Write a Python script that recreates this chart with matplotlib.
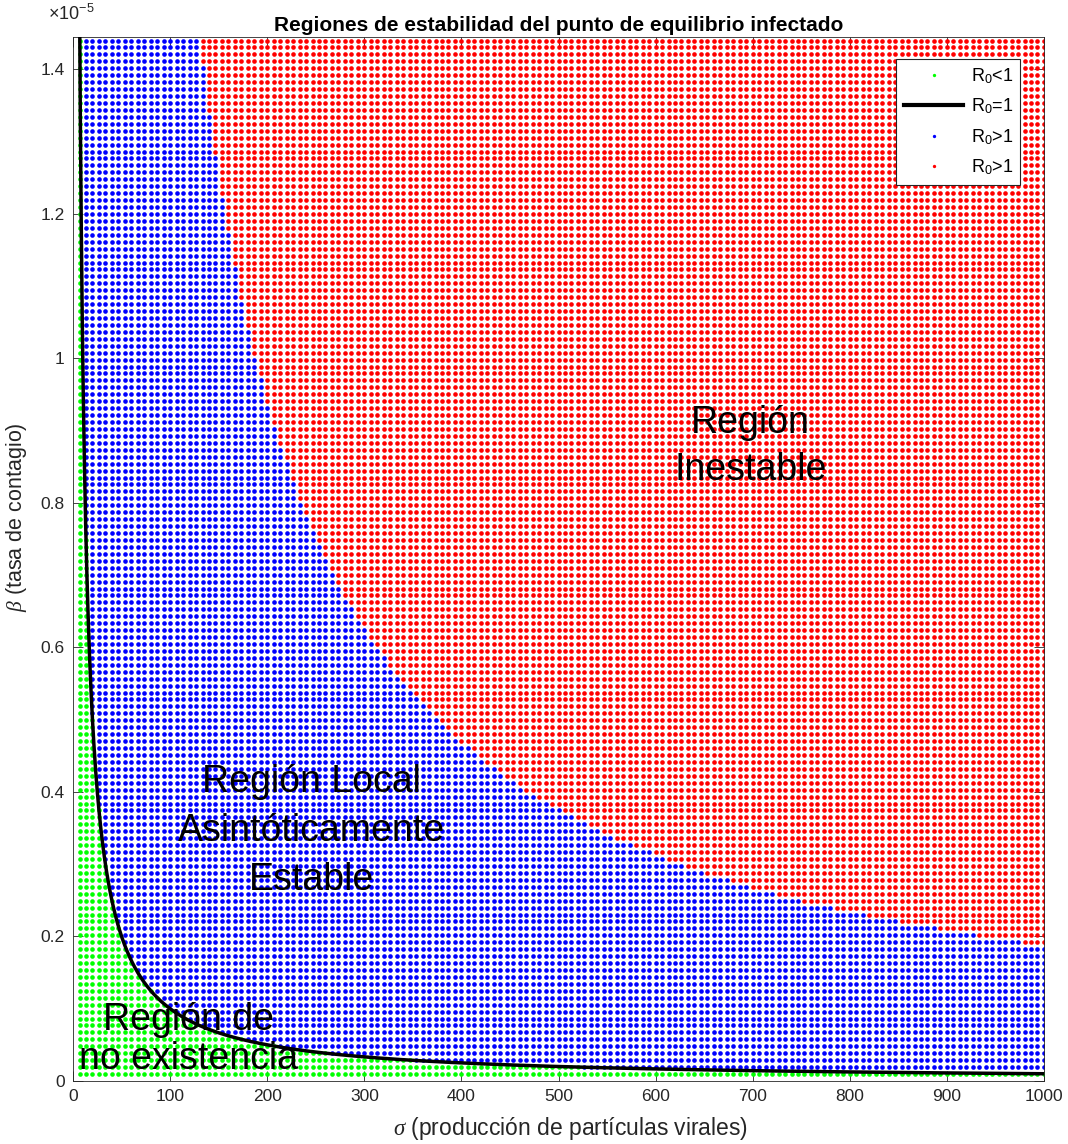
import numpy as np
import matplotlib
matplotlib.use("Agg")
import matplotlib.pyplot as plt
from matplotlib.lines import Line2D

plt.rcParams['font.family'] = ['Liberation Sans', 'DejaVu Sans']
plt.rcParams['mathtext.fontset'] = 'custom'
plt.rcParams['mathtext.rm'] = 'Liberation Sans'
plt.rcParams['mathtext.it'] = 'Liberation Serif:italic'
plt.rcParams['mathtext.bf'] = 'Liberation Sans:bold'

# Parameter grid: viral production sigma and contagion rate beta
sigma_max = 1000.0
beta_max = 1.44e-5
n_grid = 150

# Model constants
r0_scale = 1.0e-4      # sigma*beta for which R0 = 1
r0_unstable = 18.8     # R0 above which the infected equilibrium loses stability

x_ticks = [0, 100, 200, 300, 400, 500, 600, 700, 800, 900, 1000]
y_ticks = [0, 0.2e-5, 0.4e-5, 0.6e-5, 0.8e-5, 1.0e-5, 1.2e-5, 1.4e-5]
y_tick_labels = ['0', '0.2', '0.4', '0.6', '0.8', '1', '1.2', '1.4']

region_labels = ['Región\nInestable',
                 'Región Local\nAsintóticamente\nEstable',
                 'Región de\nno existencia']
region_sigma = [698, 246, 119]
region_beta = [0.878e-5, 0.346e-5, 0.057e-5]
region_spacing = [1.4, 1.45, 1.1]

sigma = np.linspace(sigma_max / n_grid, sigma_max, n_grid)
beta = np.linspace(beta_max / n_grid, beta_max, n_grid)
S, B = np.meshgrid(sigma, beta)
R0 = S * B / r0_scale

no_exist = R0 < 1
stable = (R0 >= 1) & (R0 < r0_unstable)
unstable = R0 >= r0_unstable

fig = plt.figure(figsize=(10.68, 11.44), dpi=100)
ax = fig.add_axes([0.0684, 0.0551, 0.9091, 0.9126])

dot = 11
ax.scatter(S[no_exist], B[no_exist], s=dot, c='#00ff00', linewidths=0, zorder=2)
ax.scatter(S[stable], B[stable], s=dot, c='#0000ff', linewidths=0, zorder=2)
ax.scatter(S[unstable], B[unstable], s=dot, c='#ff0000', linewidths=0, zorder=2)

sigma_line = np.linspace(1, sigma_max, 4000)
ax.plot(sigma_line, r0_scale / sigma_line, color='black', lw=2.5, zorder=3)

ax.set_xlim(0, sigma_max)
ax.set_ylim(0, 1.445e-5)
ax.set_xticks(x_ticks)
ax.set_yticks(y_ticks)
ax.set_yticklabels(y_tick_labels)

axis_gray = '#262626'
for sp in ax.spines.values():
    sp.set_color(axis_gray)
    sp.set_linewidth(0.6)
ax.tick_params(direction='in', length=7, width=0.6, colors=axis_gray,
               labelsize=12.5, top=True, right=True, pad=6)
for lab in ax.get_xticklabels() + ax.get_yticklabels():
    lab.set_color(axis_gray)

ax.text(-0.026, 1.012, r'$\mathrm{\times10^{-5}}$', transform=ax.transAxes,
        fontsize=13, color=axis_gray, ha='left', va='bottom')

ax.set_xlabel(r'$\sigma$ (producción de partículas virales)', fontsize=16.5,
              color=axis_gray)
ax.set_ylabel(r'$\beta$ (tasa de contagio)', fontsize=15.5, color=axis_gray)
ax.xaxis.set_label_coords(0.512, -0.033)
ax.yaxis.set_label_coords(-0.045, 0.54)
ax.set_title('Regiones de estabilidad del punto de equilibrio infectado',
             fontsize=15, fontweight='bold', pad=4)

for txt, sx, by, ls in zip(region_labels, region_sigma, region_beta, region_spacing):
    ax.text(sx, by, txt, fontsize=27, ha='center', va='center',
            linespacing=ls, zorder=4)

handles = [
    Line2D([], [], ls='none', marker='o', ms=2.4, mfc='#00ff00', mec='none'),
    Line2D([], [], color='black', lw=3),
    Line2D([], [], ls='none', marker='o', ms=2.4, mfc='#0000ff', mec='none'),
    Line2D([], [], ls='none', marker='o', ms=2.4, mfc='#ff0000', mec='none'),
]
labels = [r'R$_0$<1', r'R$_0$=1', r'R$_0$>1', r'R$_0$>1']
leg = ax.legend(handles, labels, loc='upper right', bbox_to_anchor=(0.9753, 0.979),
                borderaxespad=0, fontsize=13, handlelength=3.3, handletextpad=0.4,
                labelspacing=0.6, borderpad=0.4, fancybox=False,
                framealpha=1, edgecolor=axis_gray)
leg.get_frame().set_linewidth(0.8)

fig.savefig('out.png', dpi=100, facecolor='white')
